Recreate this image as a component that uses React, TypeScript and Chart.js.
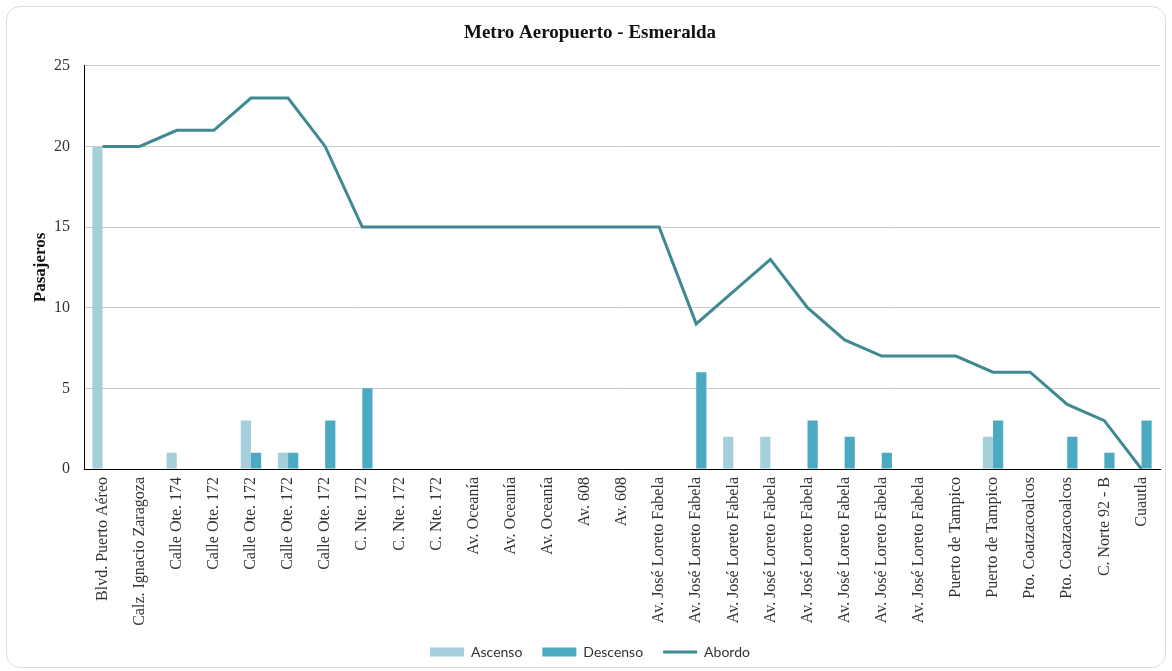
import React, { useEffect, useRef } from "react";
import { Chart, registerables } from "chart.js";

Chart.register(...registerables);

const categories: string[] = [
  "Blvd. Puerto Aéreo",
  "Calz. Ignacio Zaragoza",
  "Calle Ote. 174",
  "Calle Ote. 172",
  "Calle Ote. 172",
  "Calle Ote. 172",
  "Calle Ote. 172",
  "C. Nte. 172",
  "C. Nte. 172",
  "C. Nte. 172",
  "Av. Oceanía",
  "Av. Oceanía",
  "Av. Oceanía",
  "Av. 608",
  "Av. 608",
  "Av. José Loreto Fabela",
  "Av. José Loreto Fabela",
  "Av. José Loreto Fabela",
  "Av. José Loreto Fabela",
  "Av. José Loreto Fabela",
  "Av. José Loreto Fabela",
  "Av. José Loreto Fabela",
  "Av. José Loreto Fabela",
  "Puerto de Tampico",
  "Puerto de Tampico",
  "Pto. Coatzacoalcos",
  "Pto. Coatzacoalcos",
  "C. Norte 92 - B",
  "Cuautla",
];

const ascenso: number[] = [20, 0, 1, 0, 3, 1, 0, 0, 0, 0, 0, 0, 0, 0, 0, 0, 0, 2, 2, 0, 0, 0, 0, 0, 2, 0, 0, 0, 0];
const descenso: number[] = [0, 0, 0, 0, 1, 1, 3, 5, 0, 0, 0, 0, 0, 0, 0, 0, 6, 0, 0, 3, 2, 1, 0, 0, 3, 0, 2, 1, 3];
const abordo: number[] = [20, 20, 21, 21, 23, 23, 20, 15, 15, 15, 15, 15, 15, 15, 15, 15, 9, 11, 13, 10, 8, 7, 7, 7, 6, 6, 4, 3, 0];

const yTicks: number[] = [0, 5, 10, 15, 20, 25];

const SERIF = "'Liberation Serif', 'Times New Roman', serif";

export default function App() {
  const ref = useRef<HTMLCanvasElement | null>(null);

  useEffect(() => {
    if (!ref.current) return;
    const chart = new Chart(ref.current, {
      type: "bar",
      data: {
        labels: categories,
        datasets: [
          {
            label: "Ascenso",
            data: ascenso,
            backgroundColor: "#a6cfdc",
            borderWidth: 0,
            pointStyle: "rect",
          },
          {
            label: "Descenso",
            data: descenso,
            backgroundColor: "#4aaac2",
            borderWidth: 0,
            pointStyle: "rect",
          },
          {
            type: "line",
            label: "Abordo",
            data: abordo,
            borderColor: "#3f8a92",
            backgroundColor: "#3f8a92",
            borderWidth: 3,
            pointRadius: 0,
            pointStyle: "line",
            tension: 0,
            order: -1,
          } as any,
        ],
      },
      options: {
        responsive: false,
        animation: false,
        layout: { padding: { left: 20, right: 12, top: 6, bottom: 2 } },
        datasets: {
          bar: { categoryPercentage: 0.55, barPercentage: 1 },
        },
        plugins: {
          title: {
            display: true,
            text: "Metro Aeropuerto - Esmeralda",
            color: "#111",
            font: { family: SERIF, size: 19, weight: "bold" },
            padding: { top: 16, bottom: 21 },
          },
          legend: {
            position: "bottom",
            labels: {
              usePointStyle: true,
              pointStyleWidth: 34,
              boxHeight: 9,
              padding: 20,
              color: "#333",
              font: { family: "Lato, 'Open Sans', sans-serif", size: 14 },
              sort: (a: any, b: any) => a.datasetIndex - b.datasetIndex,
            },
          },
          tooltip: { enabled: false },
        },
        scales: {
          x: {
            grid: { display: false, drawTicks: false },
            border: { display: true, color: "#000", width: 1 },
            ticks: {
              minRotation: 90,
              maxRotation: 90,
              autoSkip: false,
              padding: 8,
              color: "#333",
              font: { family: SERIF, size: 16 },
            },
            afterFit: (scale: any) => {
              scale.height = 156;
            },
          },
          y: {
            min: 0,
            max: 25,
            afterBuildTicks: (scale: any) => {
              scale.ticks = yTicks.map((v) => ({ value: v }));
            },
            grid: { color: "#c9c9c9", lineWidth: 1, drawTicks: false },
            border: { display: true, color: "#000", width: 1 },
            ticks: {
              padding: 14,
              color: "#333",
              font: { family: SERIF, size: 16 },
            },
            title: {
              display: true,
              text: "Pasajeros",
              color: "#111",
              font: { family: SERIF, size: 17, weight: "bold" },
              padding: { top: 10, bottom: 0 },
            },
            afterFit: (scale: any) => {
              scale.width = 64;
            },
          },
        },
      },
    });
    return () => chart.destroy();
  }, []);

  return (
    <div>
      <div
        style={{
          position: "absolute",
          left: 6,
          top: 6,
          width: 1160,
          height: 662,
          boxSizing: "border-box",
          border: "1px solid #dcdcdc",
          borderRadius: 14,
          background: "#fff",
        }}
      />
      <canvas
        ref={ref}
        width={1172}
        height={671}
        style={{ position: "absolute", left: 0, top: 0, width: 1172, height: 671 }}
      />
    </div>
  );
}
